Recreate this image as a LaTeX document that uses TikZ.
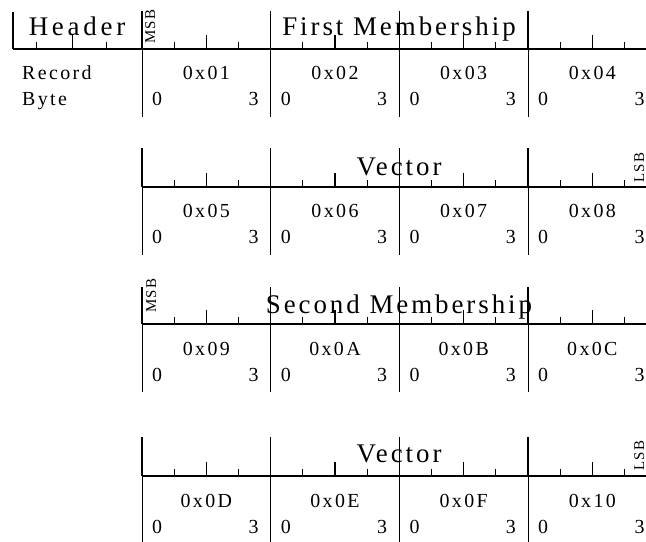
\documentclass[tikz,border=0pt]{standalone}
\usepackage{fontspec}
\setmainfont{Liberation Serif}
\newfontfamily\ttlfont[LetterSpace=11]{Liberation Serif}
\newfontfamily\hdrfont[LetterSpace=14]{Liberation Serif}
\newfontfamily\lblfont[LetterSpace=12]{Liberation Serif}
\newfontfamily\sbfont[LetterSpace=10]{Liberation Serif}
\begin{document}
\begin{tikzpicture}[x=1bp,y=-1bp,
  title/.style={font=\ttlfont\fontsize{27}{30}\selectfont, inner sep=0, anchor=base},
  lbl/.style={font=\lblfont\fontsize{20}{22}\selectfont, inner sep=0},
  sbtext/.style={font=\sbfont\fontsize{15}{16}\selectfont, inner sep=0, rotate=90, anchor=base west},
  axis/.style={line width=1.3bp},
  tickline/.style={line width=1.3bp},
  divider/.style={line width=0.8bp}]
\useasboundingbox (0,0) rectangle (646,542);
\clip (0,0) rectangle (646,542);

% ---------- texts ----------
\node[title, font=\hdrfont\fontsize{27}{30}\selectfont] (hdr) at (77,36) {Header};
\node[title] (t1) at (399,36) {First Membership};
\node[title] (t2) at (399,175.5) {Vector};
\node[title] (t3) at (399,313) {Second Membership};
\node[title] (t4) at (399,462) {Vector};
\node[sbtext] (msb1) at (155,44) {MSB};
\node[sbtext] (lsb2) at (644,183) {LSB};
\node[sbtext] (msb3) at (156,313) {MSB};
\node[sbtext] (lsb4) at (644,471) {LSB};
\node[lbl, anchor=base west] (rec) at (22,80) {Record};
\node[lbl, anchor=base west] (byt) at (22,106) {Byte};

% byte labels
\foreach \row/\yl/\la/\lb/\lc/\ld in {0/49/0x01/0x02/0x03/0x04, 1/187/0x05/0x06/0x07/0x08, 2/324/0x09/0x0A/0x0B/0x0C, 3/476/0x0D/0x0E/0x0F/0x10}{
  \foreach \b/\txt in {0/\la,1/\lb,2/\lc,3/\ld}{
    \pgfmathsetmacro\bx{142+128.67*\b}
    \node[lbl, anchor=base] (hex-\row-\b) at (\bx+64.33,\yl+31) {\txt};
    \node[lbl, anchor=base west] (lo-\row-\b) at (\bx+10,\yl+57) {0};
    \node[lbl, anchor=base east] (hi-\row-\b) at (\bx+128.67-12,\yl+57) {3};
  }
}

% ---------- lines ----------
% header row
\draw[axis] (13,49) -- (646,49);
\draw[tickline] (13,12) -- (13,49);
\draw[tickline] (36.7,42) -- (36.7,49);
\draw[tickline] (72.7,35) -- (72.7,49);
\draw[tickline] (106.7,42) -- (106.7,49);

\foreach \yl/\ys in {49/38, 187/39, 324/37, 476/39}{
  \draw[axis] (142,\yl) -- (646,\yl);
  \foreach \b in {0,1,2,3}{
    \pgfmathsetmacro\bx{142+128.67*\b}
    \draw[tickline] (\bx,\yl-\ys) -- (\bx,\yl);
    \draw[divider] (\bx,\yl) -- (\bx,\yl+68);
    \draw[tickline] (\bx+32.17,\yl-7) -- (\bx+32.17,\yl);
    \draw[tickline] (\bx+64.33,\yl-14) -- (\bx+64.33,\yl);
    \draw[tickline] (\bx+96.5,\yl-7) -- (\bx+96.5,\yl);
  }
}
\end{tikzpicture}
\end{document}
